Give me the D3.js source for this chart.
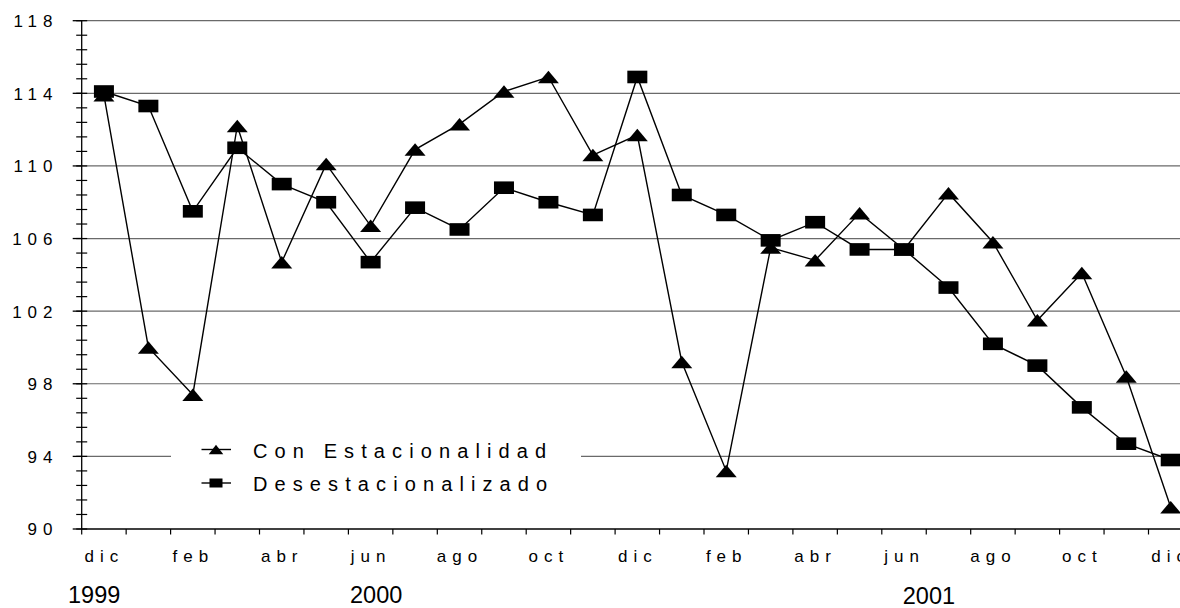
<!DOCTYPE html>
<html>
<head>
<meta charset="utf-8">
<script src="https://cdn.jsdelivr.net/npm/d3@7/dist/d3.min.js"></script>
<style>
  html, body { margin: 0; padding: 0; background: #fff; overflow: hidden; }
  svg { display: block; }
  text { font-family: "Liberation Sans", Arial, sans-serif; fill: #000; }
</style>
</head>
<body>
<svg id="chart" width="1180" height="608"></svg>
<script>
// Monthly index, Dec 1999 – Dec 2001
const months = ["dic","ene","feb","mar","abr","may","jun","jul","ago","sep","oct","nov",
                "dic","ene","feb","mar","abr","may","jun","jul","ago","sep","oct","nov","dic"];
const conEstacionalidad = [113.9, 100.0, 97.4, 112.2, 104.7, 110.1, 106.7, 110.9, 112.3, 114.1, 114.9, 110.6,
                           111.7, 99.2, 93.2, 105.5, 104.8, 107.4, 105.4, 108.5, 105.8, 101.5, 104.1, 98.4, 91.2];
const desestacionalizado = [114.1, 113.3, 107.5, 111.0, 109.0, 108.0, 104.7, 107.7, 106.5, 108.8, 108.0, 107.3,
                            114.9, 108.4, 107.3, 105.9, 106.9, 105.4, 105.4, 103.3, 100.2, 99.0, 96.7, 94.7, 93.8];
const yTicks = [90, 94, 98, 102, 106, 110, 114, 118];
const years = ["1999", "2000", "2001"];
const legendNames = ["Con Estacionalidad", "Desestacionalizado"];

const svg = d3.select("#chart");
const plotLeft = 81.7, plotTop = 20.7, plotBottom = 529, band = 44.45;

const x = d3.scaleBand().domain(d3.range(months.length))
  .range([plotLeft, plotLeft + band * months.length]).padding(0);
const cx = i => x(i) + x.bandwidth() / 2;
const y = d3.scaleLinear().domain([90, 118]).range([plotBottom, plotTop]);

// horizontal gridlines
svg.append("g").selectAll("line").data(yTicks.filter(v => v > 90)).join("line")
  .attr("x1", plotLeft).attr("x2", 1180)
  .attr("y1", d => y(d)).attr("y2", d => y(d))
  .attr("stroke", "#6a6a6a").attr("stroke-width", 1.2);

// y axis: line, major and minor ticks
const ya = svg.append("g");
ya.append("line").attr("x1", plotLeft).attr("x2", plotLeft).attr("y1", plotTop).attr("y2", plotBottom)
  .attr("stroke", "#000").attr("stroke-width", 1.3);
ya.selectAll("line.minor").data(d3.range(0, 36).map(k => 90 + k * 0.8)).join("line")
  .attr("class", "minor")
  .attr("x1", plotLeft - 5.5).attr("x2", plotLeft + 5.5)
  .attr("y1", d => y(d)).attr("y2", d => y(d))
  .attr("stroke", "#000").attr("stroke-width", 1.2);
ya.selectAll("line.major").data(yTicks).join("line")
  .attr("class", "major")
  .attr("x1", plotLeft - 9).attr("x2", plotLeft)
  .attr("y1", d => y(d)).attr("y2", d => y(d))
  .attr("stroke", "#000").attr("stroke-width", 1.3);
const yls = 6;
ya.selectAll("text").data(yTicks).join("text")
  .attr("x", 52.5 + yls).attr("y", d => y(d) + 6.4)
  .attr("text-anchor", "end")
  .attr("font-size", 17).attr("letter-spacing", yls)
  .text(d => d);

// x axis: line, ticks at month boundaries, labels every other month
const xa = svg.append("g");
xa.append("line").attr("x1", plotLeft).attr("x2", 1180).attr("y1", plotBottom).attr("y2", plotBottom)
  .attr("stroke", "#000").attr("stroke-width", 1.3);
xa.selectAll("line.tick").data(d3.range(months.length)).join("line")
  .attr("class", "tick")
  .attr("x1", d => x(d)).attr("x2", d => x(d))
  .attr("y1", plotBottom).attr("y2", plotBottom + 5.5)
  .attr("stroke", "#000").attr("stroke-width", 1.2);
const xls = 6;
xa.selectAll("text").data(d3.range(0, months.length, 2)).join("text")
  .attr("x", d => cx(d) - 2.5 + xls / 2).attr("y", 562)
  .attr("text-anchor", "middle")
  .attr("font-size", 17).attr("letter-spacing", xls)
  .text(d => months[d]);

// year labels
const yearPos = [{i: 0, dx: -13.7, dy: 603}, {i: 6, dx: 1.6, dy: 603}, {i: 18, dx: 21, dy: 603.5}];
svg.append("g").selectAll("text").data(years).join("text")
  .attr("x", (d, k) => x(yearPos[k].i) + yearPos[k].dx)
  .attr("y", (d, k) => yearPos[k].dy)
  .attr("font-size", 23.5)
  .text(d => d);

// series
const line = d3.line().x((d, i) => cx(i)).y(d => y(d));
const tri = (w, h) => `M0,${-h/2}L${w/2},${h/2}L${-w/2},${h/2}Z`;

svg.append("path").datum(desestacionalizado).attr("d", line)
  .attr("fill", "none").attr("stroke", "#000").attr("stroke-width", 1.4);
svg.append("path").datum(conEstacionalidad).attr("d", line)
  .attr("fill", "none").attr("stroke", "#000").attr("stroke-width", 1.4);

svg.append("g").selectAll("path").data(conEstacionalidad).join("path")
  .attr("transform", (d, i) => `translate(${cx(i)},${y(d)})`)
  .attr("d", tri(21, 12.5)).attr("fill", "#000");
svg.append("g").selectAll("rect").data(desestacionalizado).join("rect")
  .attr("x", (d, i) => cx(i) - 10).attr("y", d => y(d) - 6.3)
  .attr("width", 20).attr("height", 12.6).attr("fill", "#000");

// legend
const lg = svg.append("g");
lg.append("rect").attr("x", 171).attr("y", 432).attr("width", 410).attr("height", 68).attr("fill", "#fff");
const rows = [449.5, 483];
legendNames.forEach((name, k) => {
  lg.append("line").attr("x1", 201.5).attr("x2", 231).attr("y1", rows[k]).attr("y2", rows[k])
    .attr("stroke", "#000").attr("stroke-width", 1.4);
  if (k === 0) {
    lg.append("path").attr("transform", `translate(216,${rows[k]})`).attr("d", tri(14.5, 9.5)).attr("fill", "#000");
  } else {
    lg.append("rect").attr("x", 209.5).attr("y", rows[k] - 4.5).attr("width", 13).attr("height", 9).attr("fill", "#000");
  }
  lg.append("text").attr("x", 253).attr("y", rows[k] + 8)
    .attr("font-size", 20).attr("letter-spacing", 7.1)
    .text(name);
});
</script>
</body>
</html>
